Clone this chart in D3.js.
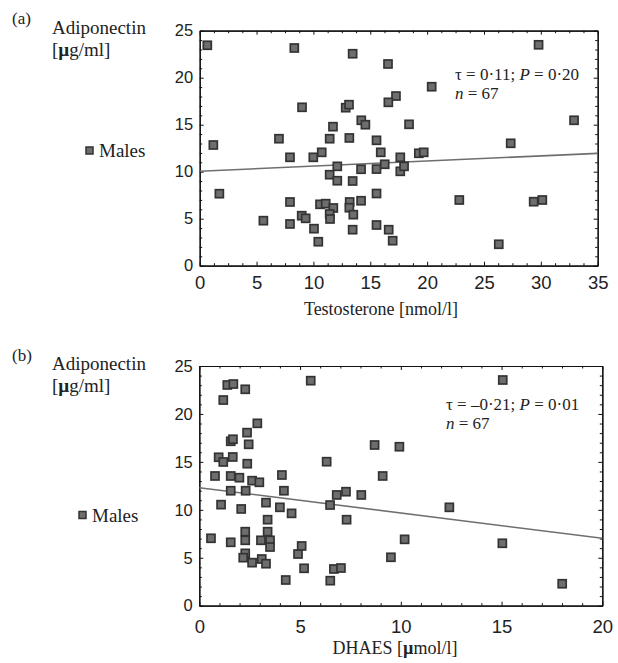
<!DOCTYPE html>
<html><head><meta charset="utf-8">
<script src="https://cdn.jsdelivr.net/npm/d3@7"></script>
<style>
body{margin:0;background:#fff}
.tk text{font-family:"Liberation Sans",Arial,sans-serif;fill:#222}
.xl text{font-family:"Liberation Sans Narrow","Liberation Sans",Arial,sans-serif;font-size:18.5px}
.yl text{font-size:16.5px}
.serif{font-family:"Liberation Serif","Times New Roman",serif;fill:#222}
</style>
</head><body>
<svg id="c" width="618" height="663"></svg>
<script>
// Panel (a): Testosterone [nmol/l] vs Adiponectin
const testoX = [0.67,8.32,13.45,1.2,9.0,12.84,13.13,11.72,11.43,13.16,14.21,14.57,6.97,15.55,29.8,16.56,20.4,17.26,16.59,18.41,32.92,27.35,19.27,19.7,7.94,9.99,10.73,12.1,11.43,12.1,13.45,14.19,15.55,1.73,7.94,10.58,11.08,11.75,11.43,11.46,13.19,13.16,13.51,14.19,5.6,7.94,8.97,9.32,10.05,10.43,13.45,15.55,15.55,15.92,16.27,17.64,17.64,17.97,22.83,29.37,30.13,16.62,16.97,26.3];
const testoY = [23.45,23.16,22.55,12.84,16.85,16.81,17.13,14.79,13.51,13.59,15.47,15.0,13.51,13.34,23.5,21.46,19.04,18.05,17.38,15.04,15.47,13.02,11.96,12.06,11.53,11.53,12.06,10.57,9.68,9.04,9.01,10.26,10.28,7.66,6.78,6.53,6.6,6.14,5.5,4.97,6.78,6.17,5.43,6.91,4.79,4.44,5.32,5.04,3.94,2.55,3.83,4.33,7.68,12.06,10.79,11.53,10.04,10.57,6.99,6.81,6.99,3.83,2.66,2.28];
const fitAX = [0, 35];
const fitAY = [10.05, 11.95];
// Panel (b): DHAES [µmol/l] vs Adiponectin
const dhaesX = [1.39,1.69,2.28,1.19,5.53,2.88,2.37,1.56,1.67,2.45,0.96,1.19,1.66,2.38,6.32,8.7,0.78,1.56,1.99,4.1,15.06,9.93,9.1,2.62,2.98,1.56,2.3,1.08,2.08,3.31,4.0,4.2,4.58,3.39,6.49,6.82,7.28,8.04,7.31,0.58,1.56,2.28,2.28,3.06,3.39,3.51,3.51,2.28,2.18,2.62,3.1,3.31,4.9,5.08,5.2,4.29,6.5,6.68,7.03,12.41,10.19,9.51,15.04,18.01];
const dhaesY = [23.02,23.12,22.57,21.45,23.47,19.02,18.05,17.15,17.36,16.83,15.48,14.99,15.51,14.81,15.02,16.76,13.53,13.53,13.35,13.63,23.54,16.58,13.53,13.04,12.87,11.99,11.99,10.54,10.09,10.75,10.26,11.99,9.63,8.97,10.5,11.55,11.89,11.55,8.97,7.03,6.61,7.72,6.82,6.82,7.72,6.82,6.12,5.46,5.01,4.49,4.87,4.38,5.39,6.23,3.9,2.68,2.61,3.83,3.93,10.26,6.92,5.05,6.51,2.29];
const fitBX = [0, 20];
const fitBY = [12.31, 7.03];

const yTicks = [0,5,10,15,20,25];
const xTicksA = [0,5,10,15,20,25,30,35];
const xTicksB = [0,5,10,15,20];
const statsA = ["τ = 0·11; ", "P", " = 0·20"];
const statsB = ["τ = –0·21; ", "P", " = 0·01"];

const svg = d3.select("#c");

function panel(o){
  const g = svg.append("g");
  const x = d3.scaleLinear().domain(o.xd).range([o.l, o.r]);
  const y = d3.scaleLinear().domain([0,25]).range([o.b, o.t]);
  const minX = d3.range(0, o.xd[1]+1e-9, o.xMinor).filter(v=>Math.abs(v/5-Math.round(v/5))>1e-6);
  const minY = d3.range(0, 25.0001, 1).filter(v=>v%5!==0);
  // minor ticks
  g.append("g").attr("transform",`translate(0,${o.b})`).call(d3.axisBottom(x).tickValues(minX).tickFormat("").tickSizeInner(-2.5).tickSizeOuter(0));
  g.append("g").attr("transform",`translate(0,${o.t})`).call(d3.axisTop(x).tickValues(minX).tickFormat("").tickSizeInner(-2.5).tickSizeOuter(0));
  g.append("g").attr("transform",`translate(${o.l},0)`).call(d3.axisLeft(y).tickValues(minY).tickFormat("").tickSizeInner(-2.5).tickSizeOuter(0));
  g.append("g").attr("transform",`translate(${o.r},0)`).call(d3.axisRight(y).tickValues(minY).tickFormat("").tickSizeInner(-2.5).tickSizeOuter(0));
  // major
  g.append("g").attr("class","tk xl").attr("transform",`translate(0,${o.b})`).call(d3.axisBottom(x).tickValues(o.xt).tickFormat(d3.format("d")).tickSizeInner(-4).tickSizeOuter(0).tickPadding(o.xpad));
  g.append("g").attr("transform",`translate(0,${o.t})`).call(d3.axisTop(x).tickValues(o.xt).tickFormat("").tickSizeInner(-4).tickSizeOuter(0));
  g.append("g").attr("class","tk yl").attr("transform",`translate(${o.l},0)`).call(d3.axisLeft(y).tickValues(yTicks).tickFormat(d3.format("d")).tickSizeInner(-4).tickSizeOuter(0).tickPadding(6.5));
  g.append("g").attr("transform",`translate(${o.r},0)`).call(d3.axisRight(y).tickValues(yTicks).tickFormat("").tickSizeInner(-4).tickSizeOuter(0));
  g.selectAll(".domain").attr("stroke","#111").attr("stroke-width",1.2);
  g.selectAll(".tick line").attr("stroke","#111");
  g.selectAll(".tk text").attr("fill","#222");
  // regression line
  g.append("path").datum(d3.zip(o.fx,o.fy))
    .attr("d", d3.line().x(d=>x(d[0])).y(d=>y(d[1])))
    .attr("fill","none").attr("stroke","#6f6f6f").attr("stroke-width",1.6);
  // points
  const s = 8;
  g.append("g").selectAll("rect").data(d3.zip(o.px,o.py)).join("rect")
    .attr("x",d=>x(d[0])-s/2).attr("y",d=>y(d[1])-s/2).attr("width",s).attr("height",s)
    .attr("fill","#6e6e6e").attr("stroke","#333").attr("stroke-width",1.7);
  // texts
  const T = (xx,yy,txt,size,anchor)=>g.append("text").attr("class","serif").attr("x",xx).attr("y",yy)
     .attr("font-size",size).attr("text-anchor",anchor||"start").text(txt);
  T(12, o.labY, o.lab, 17);
  T(52, o.adY, "Adiponectin", 19);
  const u = g.append("text").attr("class","serif").attr("x",52).attr("y",o.adY+22).attr("font-size",19);
  u.append("tspan").text("[");
  u.append("tspan").attr("font-weight","bold").text("µ");
  u.append("tspan").text("g/ml]");
  // legend
  g.append("rect").attr("x",o.legX).attr("y",o.legY-10).attr("width",7).attr("height",7)
    .attr("fill","#6e6e6e").attr("stroke","#333").attr("stroke-width",1.5);
  T(o.legX+13, o.legY, "Males", 19);
  // stats
  const st = g.append("text").attr("class","serif").attr("x",o.stX).attr("y",o.stY).attr("font-size",17);
  st.append("tspan").text(o.stats[0]);
  st.append("tspan").attr("font-style","italic").text(o.stats[1]);
  st.append("tspan").text(o.stats[2]);
  const n = g.append("text").attr("class","serif").attr("x",o.stX).attr("y",o.stY+19).attr("font-size",17);
  n.append("tspan").attr("font-style","italic").text("n");
  n.append("tspan").text(" = 67");
  // x title
  const xt = g.append("text").attr("class","serif").attr("x",o.xtX).attr("y",o.xtY).attr("font-size",18).attr("text-anchor","middle");
  o.xTitle.forEach(p=>{ const ts=xt.append("tspan").text(p[0]); if(p[1]) ts.attr("font-weight","bold"); });
}

panel({xd:[0,35], l:199.7, r:597.7, t:30.7, b:265.7, xt:xTicksA, xMinor:1.25, xpad:10,
  px:testoX, py:testoY, fx:fitAX, fy:fitAY, lab:"(a)", labY:24, adY:34, legX:86, legY:157,
  stX:455, stY:80, stats:statsA, xtX:381, xtY:315,
  xTitle:[["Testosterone [nmol/l]"]]});
panel({xd:[0,20], l:199.3, r:602.3, t:366, b:605.7, xt:xTicksB, xMinor:1, xpad:14.5,
  px:dhaesX, py:dhaesY, fx:fitBX, fy:fitBY, lab:"(b)", labY:361, adY:369.5, legX:79, legY:521.5,
  stX:446, stY:410, stats:statsB, xtX:395, xtY:654,
  xTitle:[["DHAES ["],["µ",true],["mol/l]"]]});
</script>
</body></html>
